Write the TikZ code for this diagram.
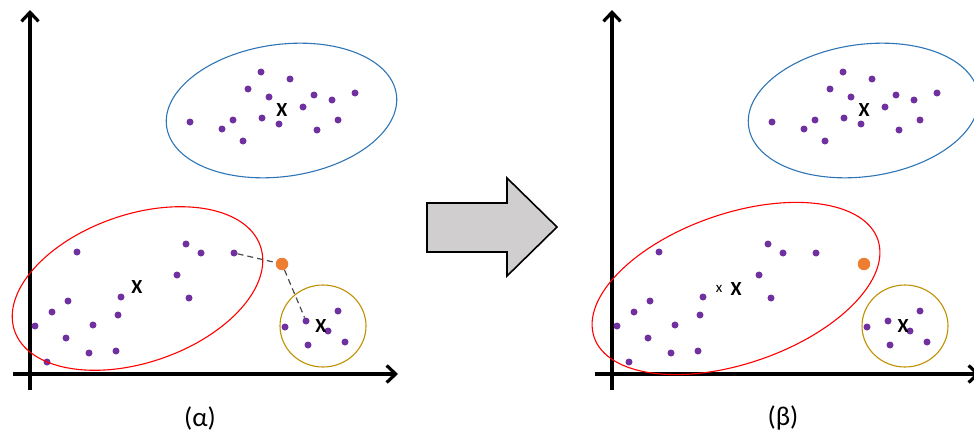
\documentclass[tikz,border=0pt]{standalone}
\usepackage{fontspec}
\setmainfont{Carlito}
\usetikzlibrary{arrows.meta}
\definecolor{dotpurple}{HTML}{7030A0}
\definecolor{clblue}{HTML}{2E75B6}
\definecolor{clred}{HTML}{FF0000}
\definecolor{clgold}{HTML}{BF9000}
\definecolor{clorange}{HTML}{ED7D31}
\definecolor{arrowgray}{HTML}{D0CECE}
\newcommand\commonplot{%
  \draw[axisline] (30,390) -- (30,10);
  \draw[axisline] (13,374) -- (398,374);
  \draw[clblue,ell] (281.5,110.5) ellipse [x radius=116, y radius=66, rotate=8];
  \draw[clgold,ell] (323,326) ellipse [x radius=43, y radius=41];
  \foreach \px/\py [count=\i] in {261/72,290/79,248/89,269/97,314/95,332/100,355/93,303/107,190/122,233/120,222/129,262/118,279/124,317/130,338/120,243/141}
    \node[pt] (b\i) at (\px,\py) {};
  \foreach \px/\py [count=\i] in {77/252,186/244,201/253,234/253,177/275,121/297,189/298,68/301,52/312,118/315,35/326,93/325,66/338,89/353,116/351,47/362}
    \node[pt] (r\i) at (\px,\py) {};
  \foreach \px/\py [count=\i] in {338/311,285/327,306/321,328/331,308/345,345/342}
    \node[pt] (y\i) at (\px,\py) {};
  \node[opt] (o) at (282,264) {};
  \node[xlab] (bX) at (282,110) {X};
  \node[xlab] (yX) at (321,326) {X};
}
\begin{document}
\begin{tikzpicture}[x=1pt,y=-1pt,
  pt/.style={circle,fill=dotpurple,inner sep=0pt,minimum size=7pt},
  opt/.style={circle,fill=clorange,inner sep=0pt,minimum size=12.5pt},
  axisline/.style={line width=3.2pt,-{Straight Barb[length=9pt,width=17pt]}},
  ell/.style={line width=1.1pt},
  xlab/.style={font=\fontsize{20}{20}\selectfont\bfseries,inner sep=0pt},
  dashline/.style={draw=black!70,line width=1.2pt,dash pattern=on 6pt off 4pt},
  caption/.style={font=\fontsize{27}{27}\selectfont,inner sep=0pt},
  bigarrow/.style={draw=black,line width=1.6pt,fill=arrowgray,line join=miter}]
\useasboundingbox (0,0) rectangle (974,439);
\clip (0,0) rectangle (974,439);
% left plot
\begin{scope}[name prefix=L]
  \commonplot
  \draw[clred,ell] (137.5,288.5) ellipse [x radius=130, y radius=74, rotate=19];
  \node[xlab] (rX) at (137,287) {X};
  \draw[dashline] (Lr4) -- (Lo) -- (Ly3);
\end{scope}
\node[caption] (capa) at (200,418) {(α)};
% big arrow
\draw[bigarrow] (427,203) -- (507,203) -- (507,178) -- (557,227) -- (507,276) -- (507,252) -- (427,252) -- cycle;
% right plot
\begin{scope}[xshift=582pt,name prefix=R]
  \commonplot
  \draw[clred,ell] (154,288.5) ellipse [x radius=150, y radius=75, rotate=19];
  \node[xlab] (rX) at (154,289) {X};
  \node[font=\fontsize{15}{15}\selectfont,inner sep=0pt] (oldX) at (137,289) {x};
\end{scope}
\node[caption] (capb) at (783,418) {(β)};
\end{tikzpicture}
\end{document}
